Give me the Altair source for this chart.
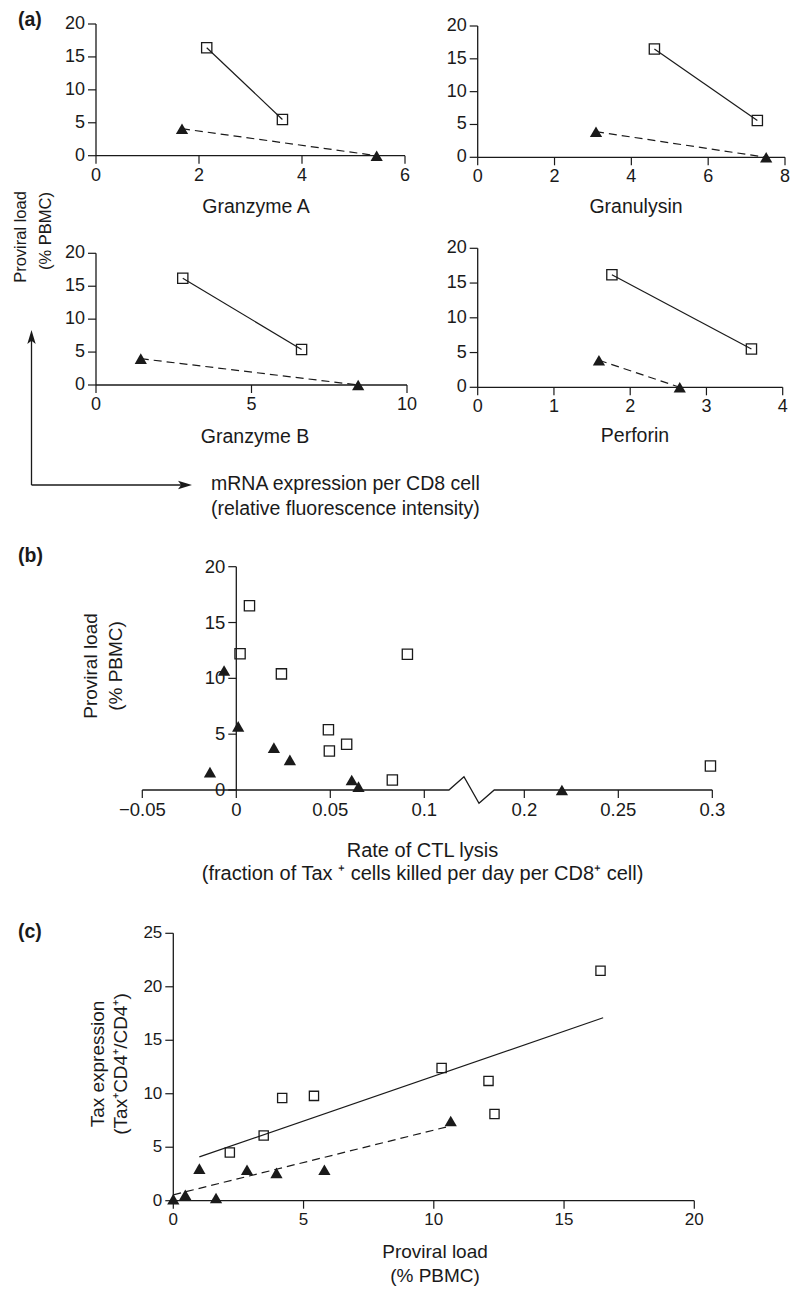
import altair as alt
import pandas as pd

# ---------------- data ----------------
# (a) mRNA expression per CD8 cell (x) vs proviral load (y); squares = high-load group, triangles = low-load group
GZA_SQ_X = [2.15, 3.62]
GZA_SQ_Y = [16.4, 5.5]
GZA_TR_X = [1.67, 5.45]
GZA_TR_Y = [4.1, 0.0]

GNLY_SQ_X = [4.6, 7.28]
GNLY_SQ_Y = [16.5, 5.6]
GNLY_TR_X = [3.08, 7.51]
GNLY_TR_Y = [3.9, 0.0]

GZB_SQ_X = [2.79, 6.61]
GZB_SQ_Y = [16.2, 5.4]
GZB_TR_X = [1.44, 8.43]
GZB_TR_Y = [4.0, 0.0]

PRF_SQ_X = [1.76, 3.59]
PRF_SQ_Y = [16.2, 5.5]
PRF_TR_X = [1.59, 2.65]
PRF_TR_Y = [3.9, 0.0]

A_Y_TICKS = [0, 5, 10, 15, 20]

# (b) rate of CTL lysis vs proviral load
B_SQ_X = [0.007, 0.002, 0.024, 0.049, 0.0495, 0.0587, 0.083, 0.091, 0.299]
B_SQ_Y = [16.5, 12.2, 10.4, 5.4, 3.5, 4.1, 0.9, 12.15, 2.15]
B_TR_X = [-0.0065, 0.001, 0.02, 0.0285, -0.014, 0.0614, 0.065, 0.22]
B_TR_Y = [10.7, 5.7, 3.8, 2.7, 1.6, 0.9, 0.3, 0.0]
B_X_TICKS = [-0.05, 0, 0.05, 0.1, 0.2, 0.25, 0.3]
B_X_LABELS = ["\u22120.05", "0", "0.05", "0.1", "0.2", "0.25", "0.3"]
B_Y_TICKS = [0, 5, 10, 15, 20]

# (c) proviral load vs Tax expression
C_SQ_X = [2.17, 3.47, 4.18, 5.4, 10.3, 12.1, 12.33, 16.4]
C_SQ_Y = [4.5, 6.1, 9.6, 9.8, 12.4, 11.2, 8.1, 21.5]
C_TR_X = [0.0, 0.46, 1.0, 1.64, 2.83, 3.96, 5.8, 10.65]
C_TR_Y = [0.15, 0.55, 3.0, 0.25, 2.9, 2.6, 2.9, 7.45]
C_FIT_SQ_X = [1.0, 16.5]
C_FIT_SQ_Y = [4.1, 17.1]
C_FIT_TR_X = [0.0, 10.5]
C_FIT_TR_Y = [0.55, 6.9]
C_X_TICKS = [0, 5, 10, 15, 20]
C_Y_TICKS = [0, 5, 10, 15, 20, 25]

# ---------------- layout helpers ----------------
OX, OY = 8, 8
W, H = 784, 1284
FONT = "Liberation Sans"
INK = "#1a1a1a"
SQ_SIZE = 105
TR_SIZE = 150
DASH = [8, 5]
TICK = 8

# broken x axis of panel (b): 0.1 .. 0.2 compressed
B_CUT = 0.15
B_SHIFT = 0.0468
B_BREAK_U = [-0.05, 0.1131, 0.1211, 0.1291, 0.1372, 0.3 - B_SHIFT]
B_BREAK_Y = [0, 0, 1.19, -1.19, 0, 0]
U_EXPR = f"datum.x > {B_CUT} ? datum.x - {B_SHIFT} : datum.x"


def xdom(a, pa, b, pb):
    k = (pb - pa) / (b - a)
    d0 = a - (pa - OX) / k
    return [d0, d0 + W / k]


def ydom(a, pa, b, pb):
    m = (pa - pb) / (b - a)
    d0 = a - (OY + H - pa) / m
    return [d0, d0 + H / m]


def text(txt, px, py, size=19, angle=0, align="center", bold=False):
    return alt.Chart(alt.Data(values=[{}])).mark_text(
        text=txt, font=FONT, fontSize=size, fontWeight="bold" if bold else "normal",
        angle=angle, align=align, baseline="middle", color=INK
    ).encode(x=alt.value(px - OX), y=alt.value(py - OY))


def tick_layers(xs, ys, xvals, xlabels, yvals, ylabels, fs, xcalc=None):
    """Axis ticks and tick labels drawn through the panel scales."""
    xt = pd.DataFrame({"x": xvals, "y": [0] * len(xvals), "lab": xlabels})
    yt = pd.DataFrame({"x": [0] * len(yvals), "y": yvals, "lab": [str(v) for v in ylabels]})
    enc = dict(x=alt.X("u:Q", scale=xs, axis=None), y=alt.Y("y:Q", scale=ys, axis=None))
    expr = xcalc if xcalc else "datum.x"
    xtick = alt.Chart(xt).transform_calculate(u=expr).mark_tick(
        orient="vertical", size=TICK, thickness=1.2, color=INK, opacity=1,
        yOffset=TICK / 2).encode(**enc)
    xlab = alt.Chart(xt).transform_calculate(u=expr).mark_text(
        font=FONT, fontSize=fs, color=INK, align="center", baseline="top",
        dy=TICK + 3).encode(text="lab:N", **enc)
    ytick = alt.Chart(yt).transform_calculate(u="datum.x").mark_tick(
        orient="horizontal", size=TICK, thickness=1.2, color=INK, opacity=1,
        xOffset=-TICK / 2).encode(**enc)
    ylab = alt.Chart(yt).transform_calculate(u="datum.x").mark_text(
        font=FONT, fontSize=fs, color=INK, align="right", baseline="middle",
        dx=-(TICK + 3)).encode(text="lab:N", **enc)
    return [xtick, xlab, ytick, ylab]


def frame_rules(xs, ys, xmax, ymax):
    frame = pd.DataFrame({"x": [0, 0], "x2": [xmax, 0], "y": [0, 0], "y2": [0, ymax]})
    return alt.Chart(frame).mark_rule(color=INK, strokeWidth=1.3).encode(
        x=alt.X("x:Q", scale=xs, axis=None), x2="x2:Q",
        y=alt.Y("y:Q", scale=ys, axis=None), y2="y2:Q")


def series_marks(sq, tr, enc, sq_size=SQ_SIZE, lines=True):
    out = []
    if lines:
        out.append(alt.Chart(sq).mark_line(color=INK, strokeWidth=1.2).encode(**enc))
        out.append(alt.Chart(tr).mark_line(color=INK, strokeWidth=1.2, strokeDash=DASH).encode(**enc))
    out.append(alt.Chart(sq).mark_point(shape="square", filled=False, color=INK, strokeWidth=1.3,
                                        size=sq_size, opacity=1).encode(**enc))
    out.append(alt.Chart(tr).mark_point(shape="triangle-up", filled=True, color=INK,
                                        size=TR_SIZE, opacity=1, strokeWidth=0).encode(**enc))
    return out


def panel_a(sqx, sqy, trx, tryy, xmax, xticks, x0p, xmp, y0p, y20p, fs=18):
    xs = alt.Scale(domain=xdom(0, x0p, xmax, xmp), nice=False, zero=False)
    ys = alt.Scale(domain=ydom(0, y0p, 20, y20p), nice=False, zero=False)
    sq = pd.DataFrame({"x": sqx, "y": sqy})
    tr = pd.DataFrame({"x": trx, "y": tryy})
    enc = dict(x=alt.X("x:Q", scale=xs, axis=None), y=alt.Y("y:Q", scale=ys, axis=None))
    ticks = tick_layers(xs, ys, xticks, [str(v) for v in xticks], A_Y_TICKS, A_Y_TICKS, fs)
    return alt.layer(frame_rules(xs, ys, xmax, 20), *ticks, *series_marks(sq, tr, enc))


# ---------------- panel (a) ----------------
pa1 = panel_a(GZA_SQ_X, GZA_SQ_Y, GZA_TR_X, GZA_TR_Y, 6, [0, 2, 4, 6], 96, 405, 155.7, 24)
pa2 = panel_a(GNLY_SQ_X, GNLY_SQ_Y, GNLY_TR_X, GNLY_TR_Y, 8, [0, 2, 4, 6, 8], 477.7, 785, 157.3, 26)
pa3 = panel_a(GZB_SQ_X, GZB_SQ_Y, GZB_TR_X, GZB_TR_Y, 10, [0, 5, 10], 96, 407, 385, 253.3)
pa4 = panel_a(PRF_SQ_X, PRF_SQ_Y, PRF_TR_X, PRF_TR_Y, 4, [0, 1, 2, 3, 4], 477.7, 782.7, 387.3, 248.3)

ARROW_UP = "M0,-1 L0.6,1 L0,0.55 L-0.6,1 Z"
ARROW_RIGHT = "M1,0 L-1,-0.6 L-0.55,0 L-1,0.6 Z"
one = alt.Data(values=[{}])
arrow_v = alt.Chart(one).mark_rule(color=INK, strokeWidth=1.3).encode(
    x=alt.value(31.5 - OX), y=alt.value(340 - OY), y2=alt.value(485 - OY))
arrow_h = alt.Chart(one).mark_rule(color=INK, strokeWidth=1.3).encode(
    x=alt.value(31.5 - OX), x2=alt.value(182 - OX), y=alt.value(485 - OY))
head_v = alt.Chart(one).mark_point(shape=ARROW_UP, filled=True, color=INK, size=196, opacity=1,
                                   strokeWidth=0).encode(x=alt.value(31.5 - OX), y=alt.value(337 - OY))
head_h = alt.Chart(one).mark_point(shape=ARROW_RIGHT, filled=True, color=INK, size=196, opacity=1,
                                   strokeWidth=0).encode(x=alt.value(185 - OX), y=alt.value(485 - OY))

texts_a = [
    text("(a)", 18, 20, size=19.5, align="left", bold=True),
    text("Granzyme A", 256, 207, size=19.5),
    text("Granulysin", 636, 207, size=19.5),
    text("Granzyme B", 255, 437, size=19.5),
    text("Perforin", 635, 436, size=19.5),
    text("Proviral load", 21, 237, size=16.5, angle=270),
    text("(% PBMC)", 46, 231, size=16.5, angle=270),
    text("mRNA expression per CD8 cell", 211, 484, size=19.5, align="left"),
    text("(relative fluorescence intensity)", 211, 509, size=19.5, align="left"),
]

# ---------------- panel (b) ----------------
xs_b = alt.Scale(domain=xdom(0, 236.3, 0.1, 424.3), nice=False, zero=False)
ys_b = alt.Scale(domain=ydom(0, 790, 20, 566.7), nice=False, zero=False)
enc_b = dict(x=alt.X("u:Q", scale=xs_b, axis=None), y=alt.Y("y:Q", scale=ys_b, axis=None))

b_break = pd.DataFrame({"u": B_BREAK_U, "y": B_BREAK_Y, "i": list(range(len(B_BREAK_U)))})
b_xaxis = alt.Chart(b_break).mark_line(color=INK, strokeWidth=1.3).encode(order="i:O", **enc_b)
b_yaxis = alt.Chart(pd.DataFrame({"u": [0], "y": [0], "y2": [20]})).mark_rule(
    color=INK, strokeWidth=1.3).encode(y2="y2:Q", **enc_b)
b_ticks = tick_layers(xs_b, ys_b, B_X_TICKS, B_X_LABELS, B_Y_TICKS, B_Y_TICKS, 18.5, xcalc=U_EXPR)
b_sq_pt = alt.Chart(pd.DataFrame({"x": B_SQ_X, "y": B_SQ_Y})).transform_calculate(
    u=U_EXPR).mark_point(shape="square", filled=False, color=INK, strokeWidth=1.3,
                         size=SQ_SIZE, opacity=1).encode(**enc_b)
b_tr_pt = alt.Chart(pd.DataFrame({"x": B_TR_X, "y": B_TR_Y})).transform_calculate(
    u=U_EXPR).mark_point(shape="triangle-up", filled=True, color=INK, strokeWidth=0,
                         size=TR_SIZE, opacity=1).encode(**enc_b)
pb = alt.layer(b_xaxis, b_yaxis, *b_ticks, b_sq_pt, b_tr_pt)

texts_b = [
    text("(b)", 18, 556, size=19.5, align="left", bold=True),
    text("Proviral load", 90.5, 666, size=19, angle=270),
    text("(% PBMC)", 116, 666, size=19, angle=270),
    text("Rate of CTL lysis", 422.5, 851, size=20),
    text("(fraction of Tax \u207a cells killed per day per CD8\u207a cell)", 422.5, 874, size=20),
]

# ---------------- panel (c) ----------------
xs_c = alt.Scale(domain=xdom(0, 173.3, 20, 694.3), nice=False, zero=False)
ys_c = alt.Scale(domain=ydom(0, 1200.7, 25, 933.3), nice=False, zero=False)
enc_c = dict(x=alt.X("x:Q", scale=xs_c, axis=None), y=alt.Y("y:Q", scale=ys_c, axis=None))
c_ticks = tick_layers(xs_c, ys_c, C_X_TICKS, [str(v) for v in C_X_TICKS], C_Y_TICKS, C_Y_TICKS, 17)
c_fit_sq = alt.Chart(pd.DataFrame({"x": C_FIT_SQ_X, "y": C_FIT_SQ_Y})).mark_line(
    color=INK, strokeWidth=1.2).encode(**enc_c)
c_fit_tr = alt.Chart(pd.DataFrame({"x": C_FIT_TR_X, "y": C_FIT_TR_Y})).mark_line(
    color=INK, strokeWidth=1.2, strokeDash=DASH).encode(**enc_c)
c_pts = series_marks(pd.DataFrame({"x": C_SQ_X, "y": C_SQ_Y}),
                     pd.DataFrame({"x": C_TR_X, "y": C_TR_Y}), enc_c, sq_size=85, lines=False)
pc = alt.layer(frame_rules(xs_c, ys_c, 20, 25), *c_ticks, c_fit_sq, c_fit_tr, *c_pts)

texts_c = [
    text("(c)", 18, 932, size=19.5, align="left", bold=True),
    text("Tax expression", 97.5, 1064, size=19, angle=270),
    text("(Tax\u207aCD4\u207a/CD4\u207a)", 121, 1064, size=19, angle=270),
    text("Proviral load", 435, 1252, size=19),
    text("(% PBMC)", 435, 1276, size=19),
]

chart = alt.layer(
    pa1, pa2, pa3, pa4, pb, pc,
    arrow_v, arrow_h, head_v, head_h,
    *texts_a, *texts_b, *texts_c,
).resolve_scale(x="independent", y="independent").properties(
    width=W, height=H, padding=0,
    autosize=alt.AutoSizeParams(type="none"),
    background="white",
).configure_view(stroke=None)

chart.save("out.html", embed_options={"renderer": "svg", "actions": False})
